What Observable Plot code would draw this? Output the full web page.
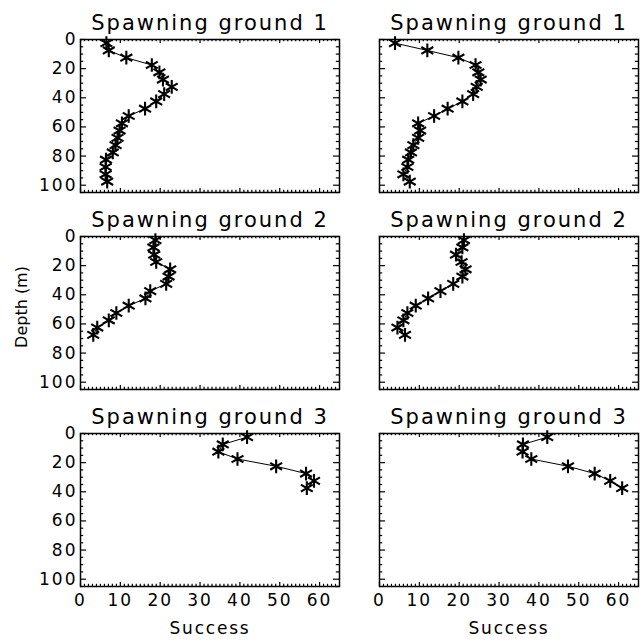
<!DOCTYPE html>
<html>
<head>
<meta charset="utf-8">
<script src="https://cdn.jsdelivr.net/npm/d3@7"></script>
<script src="https://cdn.jsdelivr.net/npm/@observablehq/plot@0.6"></script>
<style>
  html, body { margin: 0; padding: 0; background: #fff; }
  #chart { width: 642px; height: 641px; }
</style>
</head>
<body>
<div id="chart"></div>
<script>
// Depth levels (m)
const depthLevels = [2.5, 7.5, 12.5, 17.5, 22.5, 27.5, 32.5, 37.5, 42.5, 47.5,
                     52.5, 57.5, 62.5, 67.5, 72.5, 77.5, 82.5, 87.5, 92.5, 97.5];

// Success per depth, left column / right column
const ground1Left  = [6.5, 7.1, 11.5, 17.9, 19.8, 20.7, 22.9, 21.0, 19.0, 16.2, 12.1, 10.4, 9.8, 9.3, 8.8, 8.1, 6.4, 6.3, 6.3, 6.7];
const ground1Right = [3.9, 12.0, 19.8, 24.1, 24.8, 25.4, 24.4, 23.5, 20.8, 17.1, 13.7, 9.7, 10.2, 9.7, 8.5, 7.9, 7.2, 7.0, 6.0, 7.6];
const ground2Left  = [18.8, 18.3, 18.5, 19.0, 22.5, 22.1, 21.5, 17.5, 16.3, 12.1, 9.0, 7.1, 4.2, 3.2];
const ground2Right = [21.2, 20.8, 19.2, 20.6, 21.6, 20.8, 18.5, 15.3, 12.2, 9.1, 7.0, 6.0, 4.5, 6.4];
const ground3Left  = [41.8, 35.7, 34.6, 39.4, 49.1, 56.6, 58.6, 56.8];
const ground3Right = [42.1, 36.0, 35.9, 38.1, 47.3, 54.0, 57.9, 60.9];

const xTicks = [0, 10, 20, 30, 40, 50, 60];
const yTicks = [0, 20, 40, 60, 80, 100];
const xMinor = d3.range(0, 65, 1).filter(v => v % 10 !== 0);
const yMinor = d3.range(0, 106, 5).filter(v => v % 20 !== 0);

const xDomain = [0, 65];
const yDomain = [0, 105];

const series = [
  {col: 0, ground: 1, values: ground1Left},
  {col: 1, ground: 1, values: ground1Right},
  {col: 0, ground: 2, values: ground2Left},
  {col: 1, ground: 2, values: ground2Right},
  {col: 0, ground: 3, values: ground3Left},
  {col: 1, ground: 3, values: ground3Right}
];
const data = series.flatMap(s => s.values.map((v, i) => ({col: s.col, ground: s.ground, depth: depthLevels[i], success: v})));
const panels = series.map(s => ({col: s.col, ground: s.ground}));

const F = {fx: "col", fy: "ground"};

// tick values repeated for every panel, so the tick marks are faceted explicitly
const perPanel = ticks => panels.flatMap(p => ticks.map(v => ({...p, v})));

// inward tick lengths, expressed in data units of the crossing axis
const xMajLen = 2.7, xMinLen = 1.5;   // depth units (vertical ticks on top/bottom edges)
const yMajLen = 1.5, yMinLen = 0.8;   // success units (horizontal ticks on left/right edges)
const tk = {...F, stroke: "#000", strokeWidth: 1.2};
const xTickMarks = (ticks, len) => [
  Plot.ruleX(perPanel(ticks), {...tk, x: "v", y1: yDomain[1], y2: yDomain[1] - len}),
  Plot.ruleX(perPanel(ticks), {...tk, x: "v", y1: yDomain[0], y2: yDomain[0] + len})
];
const yTickMarks = (ticks, len) => [
  Plot.ruleY(perPanel(ticks), {...tk, y: "v", x1: xDomain[0], x2: xDomain[0] + len}),
  Plot.ruleY(perPanel(ticks), {...tk, y: "v", x1: xDomain[1], x2: xDomain[1] - len})
];

const chart = Plot.plot({
  width: 642,
  height: 641,
  marginLeft: 80,
  marginRight: 3,
  marginTop: 38,
  marginBottom: 53,
  style: {fontFamily: "DejaVu Sans", fontSize: "17px", color: "#000", background: "#fff"},
  fx: {domain: [0, 1], paddingInner: 0.1336, paddingOuter: 0, axis: null},
  fy: {domain: [1, 2, 3], paddingInner: 0.2222, paddingOuter: 0, axis: null},
  x: {domain: xDomain, axis: null},
  y: {domain: yDomain, reverse: true, axis: null},
  marks: [
    // tick labels
    Plot.axisX(xTicks, {anchor: "bottom", tickSize: 0, tickPadding: 7, label: null, fontSize: 17, fill: "#000"}),
    Plot.axisY(yTicks, {anchor: "left", tickSize: 0, tickPadding: 3, label: null, fontSize: 17, fill: "#000"}),
    Plot.frame({stroke: "#000", strokeWidth: 1.5}),
    Plot.line(data, {...F, x: "success", y: "depth", stroke: "#000", strokeWidth: 1}),
    Plot.dot(data, {...F, x: "success", y: "depth", symbol: "asterisk", r: 6.5, stroke: "#000", strokeWidth: 2.1}),
    Plot.text(panels, {...F, text: d => `Spawning ground ${d.ground}`, frameAnchor: "top", lineAnchor: "bottom", dy: -10, fontSize: 21, fill: "#000"}),
    Plot.text(panels.filter(p => p.ground === 3), {...F, text: () => "Success", frameAnchor: "bottom", lineAnchor: "middle", dy: 42, fontSize: 17, fill: "#000"}),
    Plot.text(panels.filter(p => p.ground === 2 && p.col === 0), {...F, text: () => "Depth (m)", frameAnchor: "left", textAnchor: "middle", rotate: -90, dx: -59, dy: -6, fontSize: 16, fill: "#000"}),
    // inward ticks on all four edges, drawn on top
    ...xTickMarks(xTicks, xMajLen),
    ...xTickMarks(xMinor, xMinLen),
    ...yTickMarks(yTicks, yMajLen),
    ...yTickMarks(yMinor, yMinLen)
  ]
});

// letter spacing to mimic the wide vector font
d3.select(chart).selectAll("text").each(function() {
  const t = this.textContent;
  if (t.startsWith("Spawning")) this.style.letterSpacing = "2px";
  else if (t === "Success") this.style.letterSpacing = "1.8px";
  else if (/^\d+$/.test(t)) this.style.letterSpacing = "2px";
});

document.getElementById("chart").appendChild(chart);
</script>
</body>
</html>
